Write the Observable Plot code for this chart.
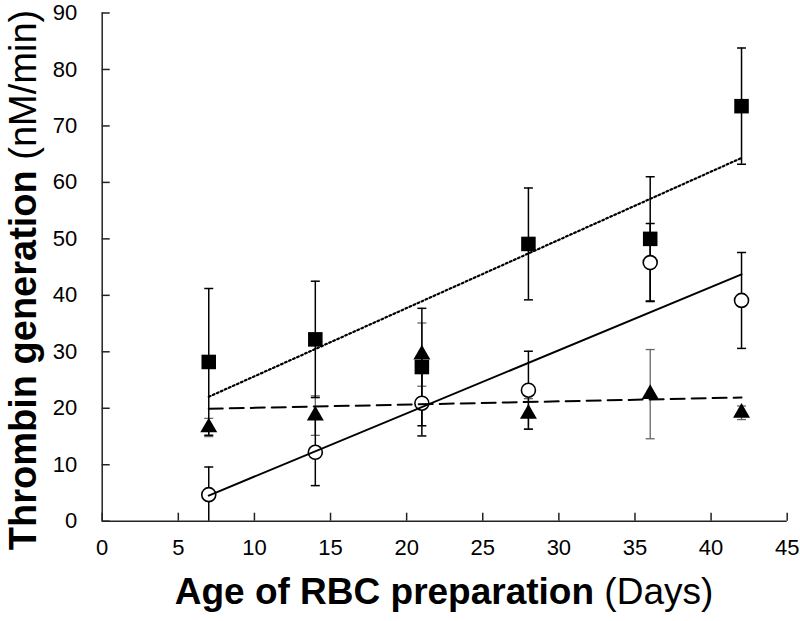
<!DOCTYPE html>
<html><head><meta charset="utf-8">
<script src="https://cdn.jsdelivr.net/npm/d3@7"></script>
<script src="https://cdn.jsdelivr.net/npm/@observablehq/plot@0.6"></script>
<style>body{margin:0;background:#fff;} svg{display:block;}</style>
</head><body><div id="chart"></div>
<script>
// ---- data ----
const days = [7, 14, 21, 28, 36, 42];
const squareMean = [28.2, 32.2, 27.3, 49.1, 50.0, 73.5];
const squareErr  = [13.0, 10.3, 10.4, 9.9, 11.0, 10.3];
const circleMean = [4.7, 12.2, 20.9, 23.2, 45.8, 39.1];
const circleErr  = [4.9, 5.9, 5.8, 6.9, 6.9, 8.5];
const triMean    = [16.6, 18.7, 29.5, 19.0, 22.5, 19.2];
const triErr     = [1.6, 3.5, 5.6, 2.7, 7.9, 1.2];
const xTicks = [0, 5, 10, 15, 20, 25, 30, 35, 40, 45];
const yTicks = [0, 10, 20, 30, 40, 50, 60, 70, 80, 90];
const xTitleBold = "Age of RBC preparation", xTitleRegular = " (Days)";
const yTitleBold = "Thrombin generation", yTitleRegular = " (nM/min)";

function rows(means, errs) {
  return days.map((d, i) => ({day: d, mean: means[i], lo: means[i] - errs[i], hi: means[i] + errs[i]}));
}
const sq = rows(squareMean, squareErr);
const ci = rows(circleMean, circleErr);
const tr = rows(triMean, triErr);

const cap = {draw(ctx) { ctx.moveTo(-4.5, 0); ctx.lineTo(4.5, 0); }};

function errorMarks(data, color, w) {
  return [
    Plot.ruleX(data, {x: "day", y1: "lo", y2: "hi", stroke: color, strokeWidth: w, clip: true}),
    Plot.dot(data, {x: "day", y: "hi", symbol: cap, r: 4, stroke: color, fill: "none", strokeWidth: w, clip: true}),
    Plot.dot(data, {x: "day", y: "lo", symbol: cap, r: 4, stroke: color, fill: "none", strokeWidth: w, clip: true})
  ];
}

const plot = Plot.plot({
  width: 800, height: 621,
  marginLeft: 101.7, marginRight: 13.3, marginTop: 12.5, marginBottom: 100.3,
  style: {fontFamily: "'Liberation Sans', Arial, sans-serif", fontSize: "22px", color: "black", background: "white"},
  x: {domain: [0, 45], ticks: xTicks},
  y: {domain: [0, 90], ticks: yTicks},
  marks: [
    Plot.axisX({ticks: xTicks, tickSize: -8, tickPadding: 26, label: null, fontSize: 22, strokeWidth: 1.5, stroke: "#222"}),
    Plot.axisY({ticks: yTicks, tickSize: -8, tickPadding: 33, label: null, fontSize: 22, strokeWidth: 1.5, stroke: "#222"}),
    Plot.ruleY([0], {stroke: "#222", strokeWidth: 1.5}),
    Plot.ruleX([0], {stroke: "#222", strokeWidth: 1.5}),
    ...errorMarks(tr, "#666", 1.3),
    ...errorMarks(sq, "black", 1.5),
    ...errorMarks(ci, "black", 1.5),
    Plot.dot(sq, {x: "day", y: "mean", symbol: "square", r: 8.2, fill: "black", stroke: "none"}),
    Plot.dot(tr, {x: "day", y: "mean", symbol: "triangle", r: 6.3, fill: "black", stroke: "none"}),
    Plot.dot(ci, {x: "day", y: "mean", symbol: "circle", r: 7, fill: "white", stroke: "black", strokeWidth: 1.6}),
    Plot.linearRegressionY(sq, {x: "day", y: "mean", ci: 0, stroke: "black", strokeWidth: 2.2, strokeDasharray: "1.8,2.6"}),
    Plot.linearRegressionY(ci, {x: "day", y: "mean", ci: 0, stroke: "black", strokeWidth: 2}),
    Plot.linearRegressionY(tr, {x: "day", y: "mean", ci: 0, stroke: "black", strokeWidth: 2, strokeDasharray: "14,7"})
  ]
});
document.getElementById("chart").appendChild(plot);

const svg = d3.select(plot);
const xt = svg.append("text").attr("x", 444).attr("y", 604).attr("text-anchor", "middle")
  .style("font-size", "37px").attr("fill", "black");
xt.append("tspan").attr("font-weight", "bold").text(xTitleBold);
xt.append("tspan").text(xTitleRegular);
const yt = svg.append("text").attr("transform", "translate(36,280) rotate(-90)").attr("text-anchor", "middle")
  .style("font-size", "38px").attr("fill", "black");
yt.append("tspan").attr("font-weight", "bold").text(yTitleBold);
yt.append("tspan").text(yTitleRegular);
</script>
</body></html>
